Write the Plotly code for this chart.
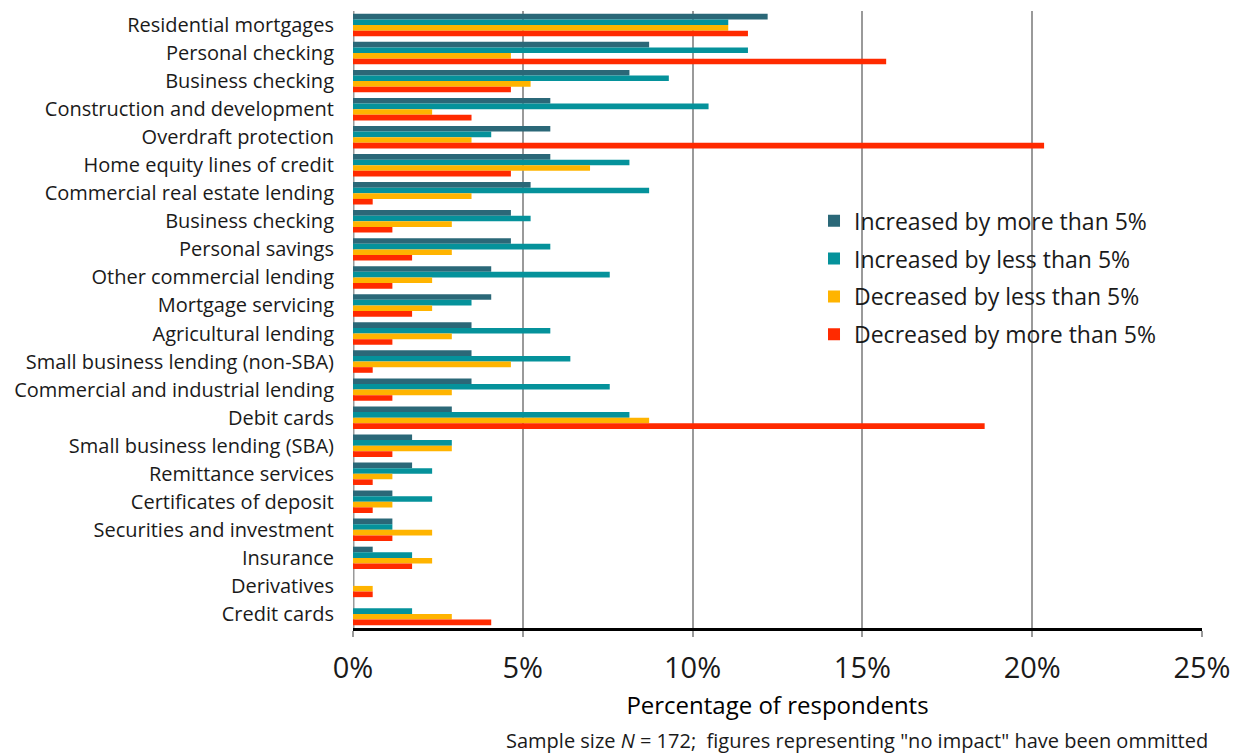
import plotly.graph_objects as go

categories = [
    "Residential mortgages", "Personal checking", "Business checking",
    "Construction and development", "Overdraft protection",
    "Home equity lines of credit", "Commercial real estate lending",
    "Business checking", "Personal savings", "Other commercial lending",
    "Mortgage servicing", "Agricultural lending",
    "Small business lending (non-SBA)", "Commercial and industrial lending",
    "Debit cards", "Small business lending (SBA)", "Remittance services",
    "Certificates of deposit", "Securities and investment", "Insurance",
    "Derivatives", "Credit cards",
]

inc_more = [12.21, 8.72, 8.14, 5.81, 5.81, 5.81, 5.23, 4.65, 4.65, 4.07, 4.07,
            3.49, 3.49, 3.49, 2.91, 1.74, 1.74, 1.16, 1.16, 0.58, 0.0, 0.0]
inc_less = [11.05, 11.63, 9.30, 10.47, 4.07, 8.14, 8.72, 5.23, 5.81, 7.56, 3.49,
            5.81, 6.40, 7.56, 8.14, 2.91, 2.33, 2.33, 1.16, 1.74, 0.0, 1.74]
dec_less = [11.05, 4.65, 5.23, 2.33, 3.49, 6.98, 3.49, 2.91, 2.91, 2.33, 2.33,
            2.91, 4.65, 2.91, 8.72, 2.91, 1.16, 1.16, 2.33, 2.33, 0.58, 2.91]
dec_more = [11.63, 15.70, 4.65, 3.49, 20.35, 4.65, 0.58, 1.16, 1.74, 1.16, 1.74,
            1.16, 0.58, 1.16, 18.60, 1.16, 0.58, 0.58, 1.16, 1.74, 0.58, 4.07]

series_names = ["Increased by more than 5%", "Increased by less than 5%",
                "Decreased by less than 5%", "Decreased by more than 5%"]
series_vals = [inc_more, inc_less, dec_less, dec_more]
colors = ["#2B6878", "#05929B", "#FFB400", "#FF2A00"]

x_ticks = [0, 5, 10, 15, 20, 25]
x_tick_labels = ["0%", "5%", "10%", "15%", "20%", "25%"]

pos = list(range(len(categories)))

fig = go.Figure()
for i, (name, vals, col) in enumerate(zip(series_names, series_vals, colors)):
    fig.add_trace(go.Bar(
        y=pos, x=vals, name=name, orientation="h", legendgroup=f"g{i}",
        marker=dict(color=col, line=dict(width=0)),
    ))

fig.update_layout(
    width=1238, height=755,
    paper_bgcolor="white", plot_bgcolor="white",
    barmode="group", bargap=0.2, bargroupgap=0,
    margin=dict(l=345, r=44, t=3, b=135, autoexpand=False),
    font=dict(family="Open Sans", color="#1a1a1a"),
    legend=dict(
        x=0.543, y=0.695, xanchor="left", yanchor="top",
        font=dict(size=23, color="#1a1a1a"),
        bgcolor="rgba(0,0,0,0)", tracegroupgap=5,
        itemwidth=30,
    ),
    annotations=[dict(
        text="Sample size <i>N</i> = 172;  figures representing \"no impact\" have been ommitted",
        xref="paper", yref="paper", x=1.0094, y=-0.183, xanchor="right", yanchor="middle",
        showarrow=False, font=dict(size=20, color="#1a1a1a"),
    )],
)

fig.update_xaxes(
    range=[0, 25], tickvals=x_ticks, ticktext=x_tick_labels,
    showgrid=True, gridcolor="#9a9a9a", gridwidth=2,
    zeroline=False,
    showline=True, linecolor="black", linewidth=3,
    ticks="outside", ticklen=6, tickcolor="#9a9a9a", tickwidth=2,
    ticklabelstandoff=6,
    tickfont=dict(size=29, color="#1a1a1a"),
    title=dict(text="Percentage of respondents", font=dict(size=24, color="black"), standoff=13),
    automargin=False,
)
fig.update_yaxes(
    tickvals=pos, ticktext=categories, autorange=False,
    range=[len(categories) - 0.5, -0.5],
    showgrid=False, zeroline=False,
    showline=False, ticks="", ticklabelstandoff=18,
    tickfont=dict(size=20, color="#1a1a1a"),
    automargin=False,
)
fig.add_shape(type="line", xref="x", yref="paper", x0=0, x1=0, y0=0, y1=1,
              line=dict(color="#9a9a9a", width=3), layer="below")

fig.write_html("out.html")
